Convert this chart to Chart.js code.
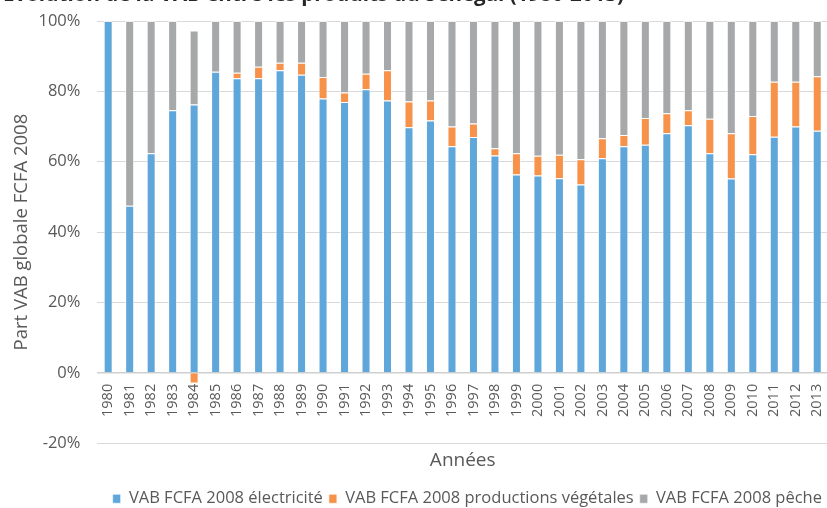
<!DOCTYPE html>
<html>
<head>
<meta charset="utf-8">
<script src="https://cdn.jsdelivr.net/npm/chart.js@4.4.0/dist/chart.umd.min.js"></script>
<style>
html,body{margin:0;padding:0;background:#fff;overflow:hidden;}
#wrap{position:relative;width:827px;height:508px;overflow:hidden;}
#myChart{position:absolute;left:0;top:-19px;}
</style>
</head>
<body>
<div id="wrap"><canvas id="myChart" width="836" height="536"></canvas></div>
<script>
'use strict';
const years = ['1980','1981','1982','1983','1984','1985','1986','1987','1988','1989',
  '1990','1991','1992','1993','1994','1995','1996','1997','1998','1999',
  '2000','2001','2002','2003','2004','2005','2006','2007','2008','2009',
  '2010','2011','2012','2013'];

// parts en % de la VAB globale
const electricite = [100,47.5,62.4,74.6,76.3,85.6,83.7,83.7,86.0,84.7,
  78.0,77.0,80.6,77.4,69.8,71.7,64.4,67.0,61.8,56.4,
  56.1,55.3,53.5,61.0,64.4,64.8,68.1,70.4,62.4,55.2,
  62.1,67.1,70.0,68.8];
const vegetales = [0,0,0,0,-3.0,0,1.6,3.3,2.1,3.4,
  6.1,2.7,4.4,8.6,7.3,5.7,5.6,3.9,2.0,6.0,
  5.6,6.7,7.2,5.7,3.2,7.6,5.7,4.2,9.8,12.9,
  10.9,15.6,12.7,15.5];
const peche = [0,52.5,37.6,25.4,21.0,14.4,14.7,13.0,11.9,11.9,
  15.9,20.3,15.0,14.0,22.9,22.6,30.0,29.1,36.2,37.6,
  38.3,38.0,39.3,33.3,32.4,27.6,26.2,25.4,27.8,31.9,
  27.0,17.3,17.3,15.7];

const seriesNames = ['VAB FCFA 2008 électricité','VAB FCFA 2008 productions végétales','VAB FCFA 2008 pêche'];
const yMin = -20;
const yMax = 100;
const yStep = 20;

const txtColor = '#595959';
Chart.defaults.font.family = "'Open Sans', sans-serif";

function makeSet(label, data, color){
  return {
    label: label,
    data: data,
    backgroundColor: color,
    borderColor: 'rgba(255,255,255,0.6)',
    borderWidth: 1,
    xAxisID: 'x',
    barPercentage: 0.42,
    categoryPercentage: 1
  };
}

let ctx = document.getElementById('myChart').getContext('2d');
let myChart = new Chart(ctx, {
  type: 'bar',
  data: {
    labels: years,
    datasets: [
      makeSet(seriesNames[0], electricite, '#5fa7db'),
      makeSet(seriesNames[1], vegetales, '#f6924a'),
      makeSet(seriesNames[2], peche, '#a6a8a9')
    ]
  },
  options: {
    responsive: false,
    animation: false,
    layout: {padding: {left: 3, right: 8}},
    plugins: {
      title: {
        display: true,
        text: 'Évolution de la VAB entre les produits du Sénégal (1980-2013)',
        align: 'start',
        color: '#262626',
        font: {size: 20.5, weight: 'bold'},
        padding: {top: 2.2, bottom: 13.2}
      },
      legend: {
        position: 'bottom',
        align: 'end',
        labels: {color: txtColor, font: {size: 16.5}, boxWidth: 8, boxHeight: 9, padding: 6}
      },
      tooltip: {enabled: false}
    },
    scales: {
      x: {
        type: 'category',
        stacked: true,
        position: {y: 0},
        grid: {display: false, drawTicks: true, tickLength: 11},
        border: {display: true, color: '#cfcfcf', width: 1.5},
        ticks: {color: txtColor, font: {size: 14.5}, minRotation: 90, maxRotation: 90, autoSkip: false, padding: 0}
      },
      x2: {
        type: 'category',
        position: 'bottom',
        grid: {display: false, drawTicks: false},
        border: {display: false},
        ticks: {display: false},
        title: {display: true, text: 'Années', color: txtColor, font: {size: 19}, padding: {top: 6, bottom: 12.5}}
      },
      y: {
        stacked: true,
        min: yMin,
        max: yMax,
        grid: {color: '#d9d9d9', drawTicks: false},
        border: {display: false},
        ticks: {stepSize: yStep, color: txtColor, font: {size: 16.5}, padding: 17,
          callback: function(v){ return v + '%'; }},
        title: {display: true, text: 'Part VAB globale FCFA 2008', color: txtColor,
          font: {size: 18.5, lineHeight: 1}, padding: {top: 9, bottom: -9}}
      }
    }
  }
});
</script>
</body>
</html>
